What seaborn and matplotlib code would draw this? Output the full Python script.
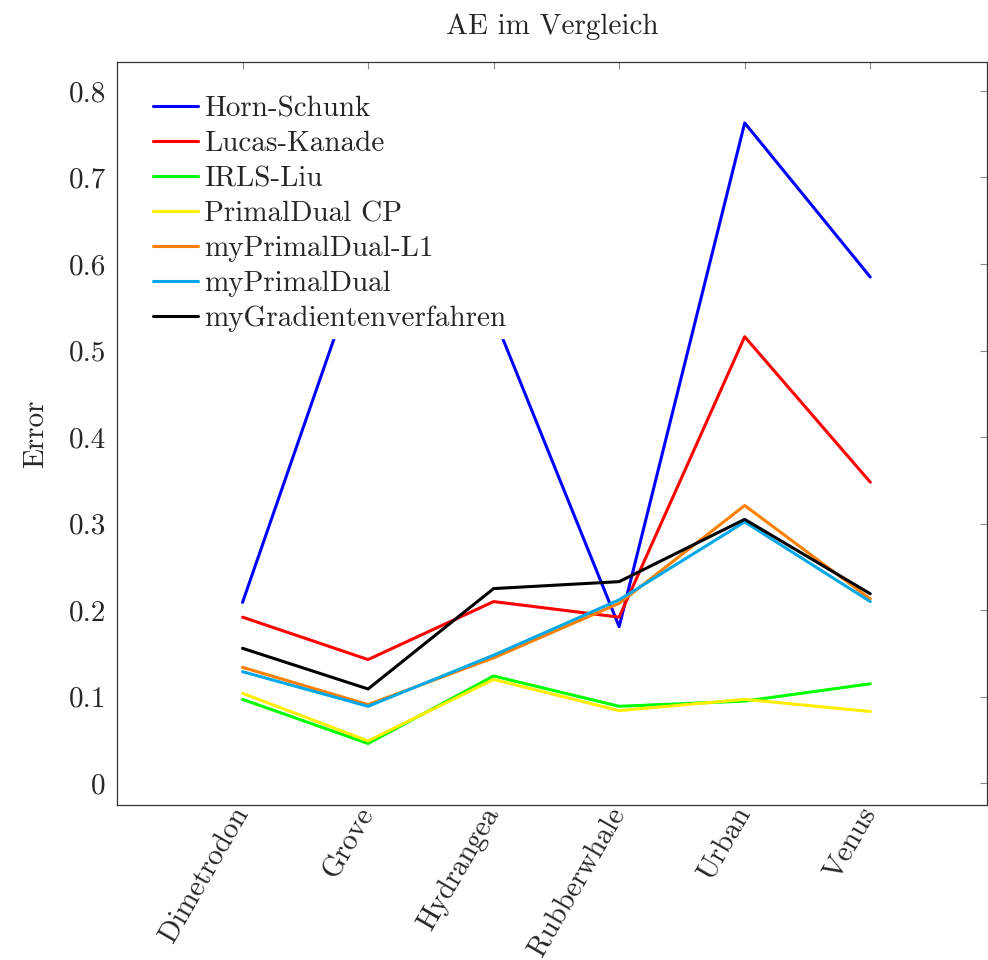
import numpy as np
import pandas as pd
import matplotlib
matplotlib.use("Agg")
import matplotlib.pyplot as plt
import seaborn as sns

datasets = ["Dimetrodon", "Grove", "Hydrangea", "Rubberwhale", "Urban", "Venus"]
horn_schunk = [0.209, 0.627, 0.540, 0.181, 0.763, 0.585]
lucas_kanade = [0.192, 0.143, 0.210, 0.192, 0.516, 0.348]
irls_liu = [0.097, 0.046, 0.124, 0.089, 0.095, 0.115]
primaldual_cp = [0.104, 0.049, 0.120, 0.084, 0.097, 0.083]
my_primaldual_l1 = [0.134, 0.091, 0.145, 0.208, 0.321, 0.213]
my_primaldual = [0.129, 0.089, 0.148, 0.212, 0.302, 0.210]
my_gradient = [0.156, 0.109, 0.225, 0.233, 0.305, 0.219]

series = {
    "Horn-Schunk": horn_schunk,
    "Lucas-Kanade": lucas_kanade,
    "IRLS-Liu": irls_liu,
    "PrimalDual CP": primaldual_cp,
    "myPrimalDual-L1": my_primaldual_l1,
    "myPrimalDual": my_primaldual,
    "myGradientenverfahren": my_gradient,
}
colors = ["#0000ff", "#ff0000", "#00ff00", "#ffee00", "#ff8000", "#00a8e8", "#000000"]

rows = []
for name, vals in series.items():
    for i, v in enumerate(vals):
        rows.append({"pos": i, "method": name, "error": v})
df = pd.DataFrame(rows)

sns.set_style("white")
plt.rcParams['font.family'] = ['cmr10', 'DejaVu Serif']
plt.rcParams['axes.formatter.use_mathtext'] = True
plt.rcParams['mathtext.fontset'] = 'cm'

fs = 21
fig = plt.figure(figsize=(9.88, 9.6), dpi=100)
ax = fig.add_axes([0.1184, 0.1615, 0.8806, 0.774])
sns.lineplot(data=df, x="pos", y="error", hue="method", palette=colors,
             linewidth=2.2, sort=False, ax=ax)

ax.set_xlim(-1, 5.93)
ax.set_ylim(-0.025, 0.8335)
ax.set_xticks(range(len(datasets)))
ax.set_xticklabels(datasets, rotation=60, ha="right", va="center",
                   rotation_mode="anchor", fontsize=fs)
ax.set_yticks(np.arange(0, 0.81, 0.1))
ax.set_yticklabels(["0", "0.1", "0.2", "0.3", "0.4", "0.5", "0.6", "0.7", "0.8"], fontsize=fs)
ax.tick_params(direction="in", length=5, color="#888888", top=True, right=True)
ax.tick_params(axis="x", pad=3)
ax.tick_params(axis="y", pad=8)
for s in ax.spines.values():
    s.set_color("#333333")
    s.set_linewidth(0.9)
ax.set_xlabel("")
ax.set_ylabel("Error", fontsize=fs, labelpad=14)
ax.set_title("AE im Vergleich", fontsize=fs, pad=20)

leg = ax.legend(loc="upper left", bbox_to_anchor=(0.035, 0.962), fontsize=fs,
                frameon=True, framealpha=1, facecolor="white", edgecolor="white",
                fancybox=False, handlelength=1.55, handletextpad=0.2,
                labelspacing=0.29, borderpad=0.2, borderaxespad=0)

fig.savefig("out.png", dpi=100)
